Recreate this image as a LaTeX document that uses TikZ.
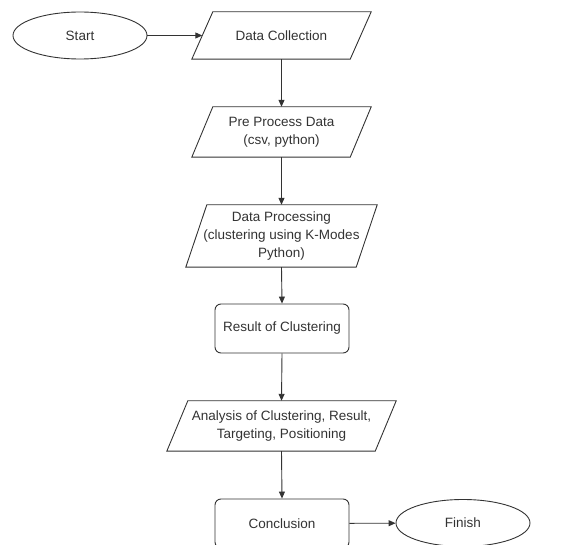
\documentclass[tikz,border=0pt]{standalone}
\usepackage{fontspec}
\setmainfont{Liberation Sans}
\usetikzlibrary{arrows.meta,shapes.geometric}
\definecolor{ln}{HTML}{333333}
\tikzset{
  txt/.style={inner sep=0pt, align=center, text=ln, font=\fontsize{13.5}{18}\selectfont},
  term/.style={txt, ellipse, draw=ln, line width=0.9pt, minimum width=134pt, minimum height=47pt},
  proc/.style={txt, draw=ln, line width=0.9pt, rounded corners=6pt, minimum width=134pt, minimum height=49pt},
  parabox/.style={txt, minimum height=#1},
  parashape/.style={draw=ln, line width=0.9pt},
  flow/.style={draw=ln, line width=0.9pt, -{Triangle[length=7pt,width=6pt]}}
}
\newcommand{\paradraw}[1]{\draw[parashape] ([xshift=-10.5pt]#1.south west) -- ([xshift=-10.5pt]#1.south east) -- ([xshift=10.5pt]#1.north east) -- ([xshift=10.5pt]#1.north west) -- cycle;}
\begin{document}
\begin{tikzpicture}[x=1pt,y=-1pt]
\useasboundingbox (0,0) rectangle (571,545);
\node[term] (start) at (80,35.5) {Start};
\node[parabox=47pt, minimum width=158pt] (dc) at (281.5,35.5) {Data Collection};
\paradraw{dc}
\node[parabox=50pt, minimum width=158pt] (pp) at (281.5,132) {Pre Process Data\\(csv, python)};
\paradraw{pp}
\node[parabox=62pt, minimum width=170pt] (dp) at (281.5,236) {Data Processing\\(clustering using K-Modes\\Python)};
\paradraw{dp}
\node[proc] (res) at (282,328.5) {Result of Clustering};
\node[parabox=50pt, minimum width=208pt] (an) at (281.5,426) {Analysis of Clustering, Result,\\Targeting, Positioning};
\paradraw{an}
\node[proc] (con) at (282,523.5) {Conclusion};
\node[term] (fin) at (463,523) {Finish};
\draw[flow] (start) -- (dc.west);
\draw[flow] (dc.south) -- (pp.north);
\draw[flow] (pp.south) -- (dp.north);
\draw[flow] (dp.south) -- (res.north);
\draw[flow] (res.south) -- (an.north);
\draw[flow] (an.south) -- (con.north);
\draw[flow] (con) -- (fin);
\end{tikzpicture}
\end{document}
